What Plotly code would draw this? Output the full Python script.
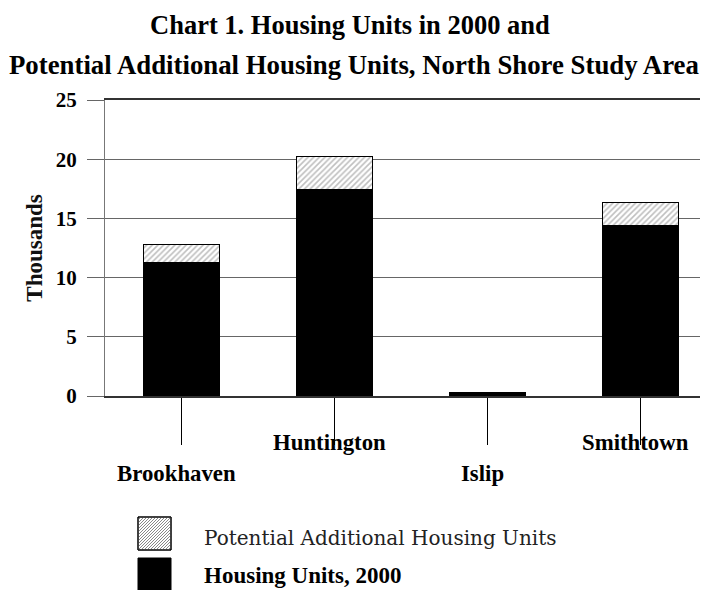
import plotly.graph_objects as go

# ---- data ----
categories = ["Brookhaven", "Huntington", "Islip", "Smithtown"]
housing_2000 = [11.3, 17.4, 0.3, 14.4]          # thousands
potential_additional = [1.5, 2.8, 0.0, 1.95]     # thousands
y_ticks = [0, 5, 10, 15, 20, 25]
label_row = [1, 0, 1, 0]  # 0 = upper row, 1 = lower row

OFF = 8  # page body margin
W, H = 708 - OFF, 590 - OFF
L, R, T = 105 - OFF, 0, 100 - OFF
B = H - (396 - OFF)
PW, PH = W - L - R, H - T - B


def px(x):  # window pixel -> paper
    return (x - OFF - L) / PW


def py(y):
    return ((H - B) - (y - OFF)) / PH


SERIF = "Liberation Serif"
BAND = 153.0  # pixel width of one category band

fig = go.Figure()
fig.add_trace(go.Bar(
    x=categories, y=housing_2000, name="Housing Units, 2000",
    marker=dict(color="black", line=dict(color="black", width=1)),
    width=0.5, showlegend=False,
))
fig.add_trace(go.Bar(
    x=categories, y=potential_additional, name="Potential Additional Housing Units",
    marker=dict(color="white", line=dict(color="black", width=1),
                pattern=dict(shape="/", fgcolor="#808080", bgcolor="white",
                             size=4, solidity=0.4)),
    width=0.5, showlegend=False,
))

fig.update_layout(
    width=W, height=H, barmode="stack",
    margin=dict(l=L, r=R, t=T, b=B, pad=0),
    paper_bgcolor="white", plot_bgcolor="white",
    showlegend=False,
    xaxis=dict(
        type="category", range=[-0.5, -0.5 + PW / BAND],
        showticklabels=False, ticks="outside", ticklen=47,
        tickcolor="black", tickwidth=1, showgrid=False,
        showline=True, mirror=True, linecolor="#333", linewidth=1.5,
        zeroline=False, fixedrange=True,
    ),
    yaxis=dict(
        range=[0, 25], tickvals=y_ticks, ticktext=[str(v) for v in y_ticks],
        ticks="outside", ticklen=17, tickcolor="#666", tickwidth=1,
        ticklabelstandoff=6,
        showgrid=True, gridcolor="#666", gridwidth=1,
        showline=True, linecolor="#777", linewidth=1,
        zeroline=True, zerolinecolor="black", zerolinewidth=1,
        tickfont=dict(family=SERIF, size=21, color="black", weight="bold"),
        title=dict(text="Thousands", standoff=6,
                   font=dict(family=SERIF, size=23, color="#111", weight="bold")),
        fixedrange=True,
    ),
)

ann = []
# title lines
ann.append(dict(text="Chart 1. Housing Units in 2000 and", x=px(350), y=1.0 + T / PH,
                xref="paper", yref="paper", showarrow=False, xanchor="center",
                yanchor="top",
                font=dict(family=SERIF, size=26.5, color="black", weight="bold")))
ann.append(dict(text="Potential Additional Housing Units, North Shore Study Area",
                x=px(354), y=py(65), xref="paper", yref="paper", showarrow=False,
                xanchor="center", yanchor="middle",
                font=dict(family=SERIF, size=26.8, color="black", weight="bold")))
# category labels, staggered
for c, row in zip(categories, label_row):
    ann.append(dict(text=c, x=c, xref="x", y=py(442 if row == 0 else 473),
                    yref="paper", showarrow=False, xanchor="center",
                    yanchor="middle", xshift=-5,
                    font=dict(family=SERIF, size=22.8, color="black", weight="bold")))
# legend text
ann.append(dict(text="Potential Additional Housing Units", x=px(202), y=py(538),
                xref="paper", yref="paper", showarrow=False, xanchor="left",
                yanchor="middle",
                font=dict(family="DejaVu Serif", size=20, color="#222")))
ann.append(dict(text="Housing Units, 2000", x=px(202), y=py(590),
                xref="paper", yref="paper", showarrow=False, xanchor="left",
                yanchor="bottom", yshift=0,
                font=dict(family=SERIF, size=23, color="black", weight="bold")))
fig.update_layout(annotations=ann)

# legend swatches (decoration, paper coords)
shapes = []
x0, x1 = px(138), px(171)
shapes.append(dict(type="rect", xref="paper", yref="paper", x0=x0, x1=x1,
                   y0=py(550), y1=py(517), fillcolor="white",
                   line=dict(color="black", width=1)))
# hatch lines in swatch ("/" direction)
step = 3
segs = []
for k in range(-33, 34, step):
    p = []
    for yy in range(0, 34):
        xx = k + 33 - yy
        if 0 <= xx <= 33:
            p.append((xx, yy))
    if len(p) >= 2:
        (xa, ya), (xb, yb) = p[0], p[-1]
        segs.append(f"M{px(138 + xa)},{py(517 + ya)} L{px(138 + xb)},{py(517 + yb)}")
shapes.append(dict(type="path", xref="paper", yref="paper", path=" ".join(segs),
                   line=dict(color="#888", width=1)))
shapes.append(dict(type="rect", xref="paper", yref="paper", x0=x0, x1=x1,
                   y0=py(550), y1=py(517), fillcolor="rgba(0,0,0,0)",
                   line=dict(color="black", width=1)))
shapes.append(dict(type="rect", xref="paper", yref="paper", x0=x0, x1=x1,
                   y0=py(590), y1=py(558), fillcolor="black",
                   line=dict(color="black", width=1)))
fig.update_layout(shapes=shapes)

fig.write_html("out.html")
